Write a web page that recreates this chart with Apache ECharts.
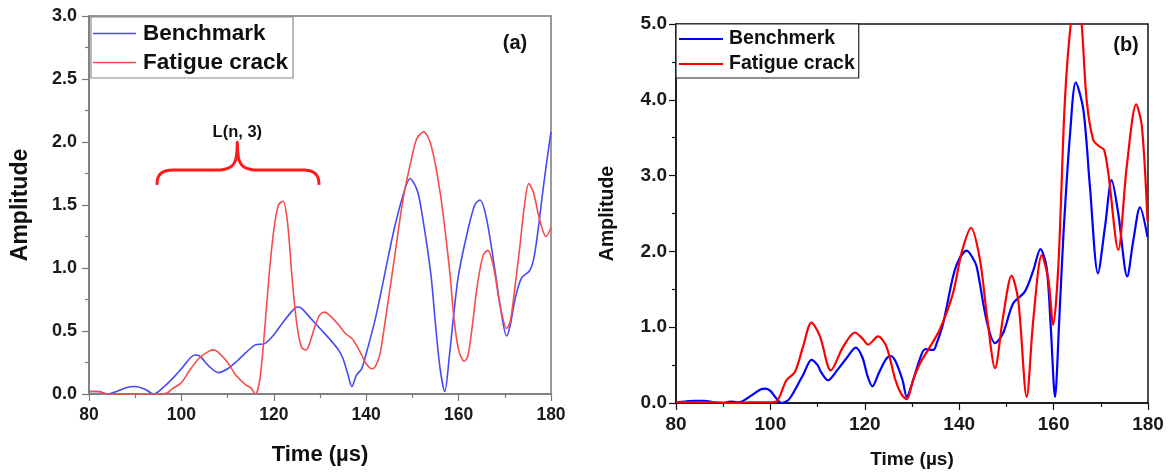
<!DOCTYPE html>
<html>
<head>
<meta charset="utf-8">
<script src="https://cdn.jsdelivr.net/npm/echarts@6/dist/echarts.min.js"></script>
<style>
  html, body { margin: 0; padding: 0; background: #fff; }
  #chart { width: 1172px; height: 476px; }
</style>
</head>
<body>
<div id="chart"></div>
<script>
// Panel (a): amplitude envelopes, time in µs
const benchA = [
  [80,0.02],[82,0.02],[84,0.0],[86,0.02],[88,0.05],[90,0.06],[92,0.04],[94,0.0],[96,0.05],
  [98,0.12],[100,0.2],[102,0.29],[103,0.31],[104,0.3],[106,0.22],[108,0.17],[110,0.2],
  [112,0.26],[114,0.33],[116,0.39],[118,0.4],[120,0.47],[122,0.57],[124,0.66],[125,0.69],
  [126,0.68],[128,0.6],[130,0.52],[132,0.44],[134,0.35],[135,0.28],[136,0.16],[136.9,0.06],
  [137.9,0.15],[139,0.2],[140,0.32],[142,0.6],[144,0.95],[146,1.3],[148,1.58],[149.5,1.71],
  [151,1.62],[152,1.45],[154,0.95],[155,0.55],[156,0.2],[157,0.02],[158,0.3],[159,0.65],
  [160,0.95],[162,1.3],[163.5,1.5],[164.6,1.54],[166,1.4],[168,0.95],[169,0.7],[170.4,0.46],
  [171.2,0.55],[172.2,0.75],[173.6,0.92],[175.4,0.98],[176.3,1.08],[177.2,1.3],[178.2,1.6],
  [179.1,1.85],[180,2.08]
];
const crackA = [
  [80,0.02],[82,0.02],[84,0.0],[90,0.0],[96,0.0],[97,0.01],[98,0.04],[100,0.09],[102,0.2],
  [104,0.29],[106,0.34],[107,0.35],[108,0.33],[110,0.25],[112,0.14],[114,0.07],[115,0.05],
  [116,0.0],[117,0.12],[118,0.5],[119,0.95],[120,1.3],[121,1.5],[122,1.53],[123,1.35],
  [124,0.9],[125,0.55],[126,0.37],[127,0.35],[128,0.43],[129,0.55],[130,0.63],[131,0.65],
  [132.2,0.62],[134,0.55],[135.5,0.48],[136.9,0.44],[138,0.38],[139,0.31],[140,0.24],
  [141.2,0.2],[142,0.22],[143,0.32],[144,0.55],[146,1.05],[148,1.55],[150,1.9],[151,2.03],
  [152.4,2.08],[154,1.98],[156,1.6],[158,1.0],[159,0.6],[160,0.35],[161.2,0.26],[162,0.3],
  [163,0.55],[164,0.85],[165.3,1.1],[166.3,1.14],[167.5,1.02],[169,0.7],[170.4,0.52],
  [171.2,0.58],[172.2,0.85],[173.2,1.15],[174.2,1.48],[175.2,1.67],[176.2,1.6],[177.3,1.42],
  [178.3,1.29],[178.9,1.25],[180,1.32]
];
// Curly brace marking the L(n, 3) wave packet, in data units of panel (a)
const braceA = [
  [94.7,1.66],[94.9,1.715],[95.6,1.752],[96.7,1.772],[98.3,1.778],[108.4,1.778],[110.0,1.79],
  [111.1,1.815],[111.75,1.86],[112.02,1.93],[112.1,2.0],[112.18,1.93],[112.45,1.86],
  [113.1,1.815],[114.2,1.79],[115.8,1.778],[126.2,1.778],[127.8,1.772],[128.9,1.752],
  [129.6,1.715],[129.8,1.66]
];
const braceTip = [112.1, 2.0];
const braceLabel = 'L(n, 3)';

// Panel (b)
const benchB = [
  [80,0.01],[82,0.02],[84,0.03],[86,0.03],[88,0.01],[90,0.0],[91.5,0.02],[93,0.01],[94,0.02],
  [96,0.1],[98,0.18],[99,0.19],[100,0.16],[101,0.08],[102.4,0.0],[103.8,0.04],[105,0.15],
  [107,0.38],[108.7,0.57],[110,0.5],[110.8,0.4],[112.2,0.3],[114,0.42],[116,0.58],
  [118.1,0.73],[119.5,0.6],[120.6,0.35],[121.6,0.22],[123,0.4],[124.5,0.58],[125.5,0.62],
  [126.5,0.55],[128,0.3],[128.9,0.08],[130,0.25],[131.5,0.55],[132.8,0.71],[134.5,0.7],
  [135.3,0.8],[136.6,1.05],[138.7,1.67],[140,1.9],[141.6,2.01],[142.8,1.92],[143.7,1.8],
  [145.8,1.09],[147.6,0.79],[149.3,0.92],[151.4,1.31],[153.9,1.47],[155.7,1.75],[157.2,2.03],
  [158.5,1.8],[159.4,1.0],[160.3,0.08],[161.2,1.1],[162.1,2.24],[163.5,3.56],[164.7,4.23],
  [166.3,3.87],[167.7,2.85],[169.4,1.71],[170.9,2.33],[172.3,2.94],[173.7,2.5],[175.6,1.67],
  [176.9,2.15],[178.3,2.58],[179.9,2.19]
];
const crackB = [
  [80,0.01],[84,0.01],[88,0.01],[92,0.0],[96,0.01],[100,0.01],[101.3,0.02],[103.4,0.3],
  [105.2,0.41],[106.9,0.74],[108.7,1.06],[110.5,0.88],[112.8,0.43],[115.4,0.74],[117.9,0.93],
  [119.5,0.85],[120.7,0.77],[122.8,0.88],[124.6,0.74],[126.5,0.3],[127.8,0.11],[128.9,0.05],
  [130.2,0.3],[131.7,0.52],[133.8,0.74],[135.9,0.97],[138.7,1.45],[140.5,1.98],[142.5,2.31],
  [144.4,1.89],[145.9,1.14],[147.6,0.46],[149.3,1.14],[151.1,1.68],[152.5,1.36],[154.3,0.08],
  [155.7,1.1],[157.5,1.95],[158.9,1.62],[159.9,1.03],[161.0,1.8],[162.4,4.0],[163.8,5.1],
  [164.8,5.35],[165.8,5.1],[167.0,4.0],[168.4,3.47],[169.8,3.38],[170.7,3.34],[171.6,3.03],
  [173.7,2.02],[175.5,3.12],[177.5,3.94],[178.7,3.65],[179.9,2.4]
];

const namesA = ['Benchmark', 'Fatigue crack'];
const namesB = ['Benchmerk', 'Fatigue crack'];
const xTitle = 'Time (µs)';
const yTitle = 'Amplitude';
const panelTags = ['(a)', '(b)'];

const FONT = 'Arial, "Liberation Sans", sans-serif';
const colA = ['#4848f4', '#f84c4c'];
const colB = ['#0000ff', '#ff0000'];

function xAxis(grid, color, fs, nameFs, nameGap, labelMargin) {
  return {
    gridIndex: grid, type: 'value', min: 80, max: 180, interval: 20,
    name: xTitle, nameLocation: 'middle', nameGap: nameGap,
    nameTextStyle: { fontFamily: FONT, fontWeight: 'bold', fontSize: nameFs, color: '#111' },
    axisLine: { lineStyle: { color: color, width: 1.5 } },
    axisTick: { length: 7, lineStyle: { color: color, width: 1.2 } },
    minorTick: { show: true, splitNumber: 2, length: 4, lineStyle: { color: color, width: 1.2 } },
    splitLine: { show: false },
    axisLabel: { fontFamily: FONT, fontWeight: 'bold', fontSize: fs, color: '#1a1a1a', margin: labelMargin }
  };
}
function yAxis(grid, max, interval, color, fs, nameFs, nameGap, labelMargin) {
  return {
    gridIndex: grid, type: 'value', min: 0, max: max, interval: interval,
    name: yTitle, nameLocation: 'middle', nameGap: nameGap,
    nameTextStyle: { fontFamily: FONT, fontWeight: 'bold', fontSize: nameFs, color: '#111' },
    axisLine: { lineStyle: { color: color, width: 1.5 } },
    axisTick: { length: 7, lineStyle: { color: color, width: 1.2 } },
    minorTick: { show: true, splitNumber: 2, length: 4, lineStyle: { color: color, width: 1.2 } },
    splitLine: { show: false },
    axisLabel: {
      fontFamily: FONT, fontWeight: 'bold', fontSize: fs, color: '#1a1a1a', margin: labelMargin,
      formatter: v => v.toFixed(1)
    }
  };
}
function curve(name, data, xi, color, width) {
  return {
    name: name, type: 'line', xAxisIndex: xi, yAxisIndex: xi, data: data,
    showSymbol: false, symbol: 'none', smooth: 0.3, clip: true,
    lineStyle: { color: color, width: width }, itemStyle: { color: color },
    silent: true, z: 3
  };
}
function legendItems(names, cols) {
  return names.map((n, i) => ({ name: n, icon: 'rect', itemStyle: { color: cols[i] } }));
}

const chart = echarts.init(document.getElementById('chart'), null, { renderer: 'canvas' });
chart.setOption({
  animation: false,
  backgroundColor: '#fff',
  grid: [
    { left: 89, top: 16, width: 462, height: 378, show: true, borderColor: '#7a7a7a', borderWidth: 1.5, backgroundColor: 'transparent' },
    { left: 676, top: 24, width: 472, height: 379, show: true, borderColor: '#111', borderWidth: 1.5, backgroundColor: 'transparent' }
  ],
  xAxis: [
    xAxis(0, '#7a7a7a', 17.5, 22, 50, 12),
    xAxis(1, '#111', 19, 19, 47, 12)
  ],
  yAxis: [
    yAxis(0, 3, 0.5, '#7a7a7a', 18, 23, 57, 12),
    yAxis(1, 5, 1, '#111', 19, 19.5, 58, 9)
  ],
  legend: [
    {
      left: 91, top: 17, orient: 'vertical',
      data: legendItems(namesA, colA),
      itemWidth: 43, itemHeight: 1.6, itemGap: 6,
      padding: [5, 5, 4, 2],
      borderColor: '#8a8a8a', borderWidth: 1.2, backgroundColor: '#fff',
      textStyle: { fontFamily: FONT, fontWeight: 'bold', fontSize: 22.5, color: '#111', padding: [0, 0, 0, 2] },
      selectedMode: false
    },
    {
      left: 676, top: 24, orient: 'vertical',
      data: legendItems(namesB, colB),
      itemWidth: 44, itemHeight: 2.2, itemGap: 5,
      padding: [5, 4, 4, 3],
      borderColor: '#222', borderWidth: 1.2, backgroundColor: '#fff',
      textStyle: { fontFamily: FONT, fontWeight: 'bold', fontSize: 19.5, color: '#111', padding: [0, 0, 0, 1] },
      selectedMode: false
    }
  ],
  graphic: [
    { type: 'text', x: 515, y: 43, style: { text: panelTags[0], fontFamily: FONT, fontWeight: 'bold', fontSize: 20, fill: '#111', textAlign: 'center', textVerticalAlign: 'middle' } },
    { type: 'text', x: 1126, y: 45, style: { text: panelTags[1], fontFamily: FONT, fontWeight: 'bold', fontSize: 20, fill: '#111', textAlign: 'center', textVerticalAlign: 'middle' } }
  ],
  series: [
    curve(namesA[0], benchA, 0, colA[0], 1.6),
    curve(namesA[1], crackA, 0, colA[1], 1.6),
    {
      type: 'line', xAxisIndex: 0, yAxisIndex: 0, silent: true, data: braceA,
      showSymbol: false, symbol: 'none', smooth: 0.3,
      lineStyle: { color: '#ff1a1a', width: 3 }, z: 4
    },
    {
      type: 'scatter', xAxisIndex: 0, yAxisIndex: 0, silent: true, data: [braceTip],
      symbolSize: 2, itemStyle: { color: 'rgba(0,0,0,0)', opacity: 1 },
      label: { show: true, position: 'top', distance: 0, offset: [0, 4], formatter: braceLabel,
        fontFamily: FONT, fontWeight: 'bold', fontSize: 16.5, color: '#111' },
      labelLayout: { hideOverlap: false },
      z: 5
    },
    curve(namesB[0], benchB, 1, colB[0], 2.2),
    curve(namesB[1], crackB, 1, colB[1], 2.2)
  ]
});
</script>
</body>
</html>
